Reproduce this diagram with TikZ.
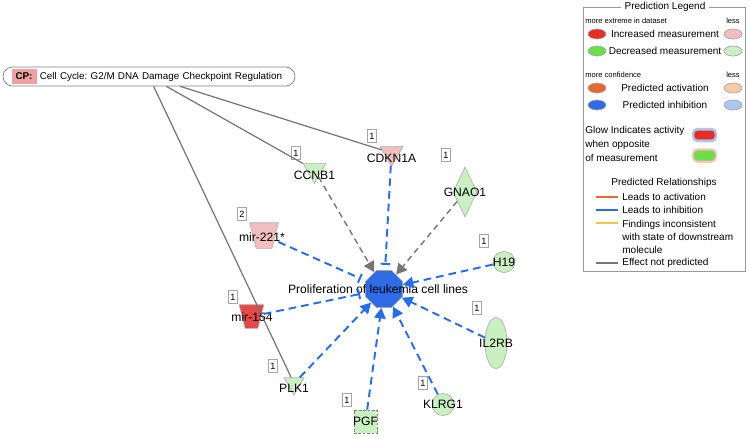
\documentclass[tikz,border=0pt]{standalone}
\usepackage{fontspec}
\setmainfont{Liberation Sans}
\usetikzlibrary{arrows.meta,shapes.geometric,positioning,calc}
\frenchspacing
\definecolor{edgeblue}{RGB}{40,108,238}
\definecolor{hubblue}{RGB}{45,108,230}
\definecolor{edgegray}{RGB}{118,118,118}
\definecolor{downgreen}{RGB}{200,240,192}
\definecolor{uppink}{RGB}{242,190,190}
\definecolor{upred}{RGB}{228,72,72}
\definecolor{cppink}{RGB}{240,160,160}
\definecolor{legred}{RGB}{230,45,40}
\definecolor{leggreen}{RGB}{105,225,70}
\definecolor{legorange}{RGB}{232,105,45}
\definecolor{legorangelt}{RGB}{247,202,168}
\definecolor{legbluelt}{RGB}{172,200,242}
\definecolor{legyellow}{RGB}{240,200,60}
\tikzset{%
	lbl/.style      = {font=\fontsize{6.9}{8}\selectfont, inner sep=0pt},
	legtxt/.style   = {font=\fontsize{5.7}{7}\selectfont, inner sep=0pt},
	legsmall/.style = {font=\fontsize{4.3}{5}\selectfont, inner sep=0pt},
	numbox/.style   = {draw=gray!70, fill=white, line width=0.4pt, minimum width=0.17cm, minimum height=0.25cm, inner sep=0pt, font=\fontsize{5.2}{6}\selectfont},
	downtri/.style  = {draw=gray!60, regular polygon, regular polygon sides=3, shape border rotate=180, inner sep=0pt},
	mirbox/.style   = {rectangle, inner sep=0pt},
	oval/.style     = {draw=gray!60, ellipse, inner sep=0pt, fill=downgreen},
	legoval/.style  = {draw=gray!70, ellipse, inner sep=0pt, minimum width=0.36cm, minimum height=0.2cm},
	inhib/.style    = {edgeblue, line width=1.1pt, dash pattern=on 4.4pt off 2.8pt, -{Bar[width=5.5pt,line width=1.1pt]}, shorten >=3pt},
	activ/.style    = {edgeblue, line width=1.1pt, dash pattern=on 4.4pt off 2.8pt, -{Triangle[length=6pt,width=6.5pt]}},
	noeff/.style    = {edgegray, line width=0.8pt, dash pattern=on 3.4pt off 2.4pt, -{Triangle[length=6pt,width=6.5pt]}},
	cpline/.style   = {edgegray, line width=0.7pt},
}

\begin{document}
\begin{tikzpicture}[x=0.02cm, y=-0.02cm]
	\useasboundingbox (0,0) rectangle (750,437);
	% canonical pathway
	\node[draw=gray, rounded corners=0.19cm, minimum height=0.38cm, text width=5.5cm, inner xsep=0.17cm, inner ysep=1pt, align=left, font=\fontsize{5.6}{7}\selectfont] (cp) at (149,76.5) {{\setlength{\fboxsep}{2.3pt}\colorbox{cppink}{\textbf{CP:}}} Cell Cycle: G2/M DNA Damage Checkpoint Regulation};
	
	% function node
	\node[regular polygon, regular polygon sides=8, minimum size=0.8cm, inner sep=0pt, fill=hubblue, draw=gray!70, label={[lbl,xshift=-3.4pt]center:Proliferation of leukemia cell lines}] (prolif) at (384,289) {};
	
	% molecules
	\node[downtri, fill=uppink, minimum size=0.53cm, label={[lbl,yshift=-2.8pt]center:CDKN1A}] (cdkn) at (391.5,153) {};
	\node[numbox] (n-cdkn) at (372,136) {1};
	\node[downtri, fill=downgreen, minimum size=0.53cm, label={[lbl,yshift=-2.8pt]center:CCNB1}] (ccnb) at (314.5,170) {};
	\node[numbox] (n-ccnb) at (296,153) {1};
	\node[diamond, draw=gray!60, fill=downgreen, minimum width=0.48cm, minimum height=1cm, inner sep=0pt, label={[lbl]center:GNAO1}] (gnao) at (465,192) {};
	\node[numbox] (n-gnao) at (446,155) {1};
	% microRNAs: trapezoids drawn on invisible boxes
	\node[mirbox, minimum width=0.56cm, minimum height=0.5cm] (mir221) at (264,235.5) {};
	\draw[fill=uppink, draw=gray!60] (mir221.north west) -- (mir221.north east) -- ($(mir221.south east)+(-6.5,0)$) -- ($(mir221.south west)+(6.5,0)$) -- cycle;
	\node[lbl] (t-mir221) at (262,237) {mir-221*};
	\node[numbox] (n-mir221) at (242,214) {2};
	\node[mirbox, minimum width=0.48cm, minimum height=0.46cm] (mir154) at (251.5,316.5) {};
	\draw[fill=upred, draw=gray!60] (mir154.north west) -- (mir154.north east) -- ($(mir154.south east)+(-6,0)$) -- ($(mir154.south west)+(6,0)$) -- cycle;
	\node[lbl] (t-mir154) at (252,317) {mir-154};
	\node[numbox] (n-mir154) at (233,297) {1};
	\node[oval, minimum width=0.44cm, minimum height=0.42cm, label={[lbl]center:H19}] (h19) at (504,262) {};
	\node[numbox] (n-h19) at (484,241) {1};
	\node[oval, minimum width=0.44cm, minimum height=1.02cm, label={[lbl]center:IL2RB}] (il2rb) at (496,343) {};
	\node[numbox] (n-il2rb) at (477,308) {1};
	\node[downtri, fill=downgreen, minimum size=0.46cm, label={[lbl,yshift=-2.5pt]center:PLK1}] (plk) at (294,383.5) {};
	\node[numbox] (n-plk) at (273,366) {1};
	\node[draw=gray, dash pattern=on 1.5pt off 1pt, fill=downgreen, minimum size=0.46cm, inner sep=0pt, label={[lbl]center:PGF}] (pgf) at (365.5,421.5) {};
	\node[numbox] (n-pgf) at (347,400) {1};
	\node[oval, minimum size=0.44cm, label={[lbl]center:KLRG1}] (klrg) at (443,404.5) {};
	\node[numbox] (n-klrg) at (423,383) {1};
	
	% relationships
	\draw[cpline] (cp) -- (cdkn);
	\draw[cpline] (cp) -- (ccnb);
	\draw[cpline] (cp) -- (plk);
	\draw[noeff] (ccnb) -- (prolif);
	\draw[noeff] (gnao) -- (prolif);
	\draw[inhib] (cdkn) -- (prolif);
	\draw[inhib] (mir221) -- (prolif);
	\draw[inhib] (mir154) -- (prolif);
	\draw[activ] (h19) -- (prolif);
	\draw[activ] (il2rb) -- (prolif);
	\draw[activ] (plk) -- (prolif);
	\draw[activ] (pgf) -- (prolif);
	\draw[activ] (klrg) -- (prolif);
	
	% legend
	\draw[gray!80, line width=0.5pt] (583,7) rectangle (745,271);
	\node[legtxt, fill=white, inner xsep=2pt] (legtitle) at (665,7) {Prediction Legend};
	\node[legsmall, anchor=west] (t-extreme) at (585,21) {more extreme in dataset};
	\node[legsmall] (t-less1) at (733,21) {less};
	\node[legoval, fill=legred] (o-incr) at (597,34) {};
	\node[legtxt] (t-incr) at (665,34) {Increased measurement};
	\node[legoval, fill=uppink] (o-incrlt) at (733,34) {};
	\node[legoval, fill=leggreen] (o-decr) at (597,51) {};
	\node[legtxt] (t-decr) at (665,51) {Decreased measurement};
	\node[legoval, fill=downgreen] (o-decrlt) at (733,51) {};
	\node[legsmall, anchor=west] (t-conf) at (585,75) {more confidence};
	\node[legsmall] (t-less2) at (733,75) {less};
	\node[legoval, fill=legorange] (o-act) at (597,88) {};
	\node[legtxt] (t-act) at (665,88) {Predicted activation};
	\node[legoval, fill=legorangelt] (o-actlt) at (733,88) {};
	\node[legoval, fill=hubblue] (o-inh) at (597,105) {};
	\node[legtxt] (t-inh) at (665,105) {Predicted inhibition};
	\node[legoval, fill=legbluelt] (o-inhlt) at (733,105) {};
	\node[legtxt, anchor=west, align=left, font=\fontsize{5.7}{7.9}\selectfont] (t-glow) at (585,144) {Glow Indicates activity\\when opposite\\of measurement};
	\node[fill=legbluelt, rounded corners=3pt, minimum width=0.5cm, minimum height=0.29cm, inner sep=0pt] (glow1) at (704.5,135) {};
	\node[fill=legred, draw=gray!60, rounded corners=2pt, minimum width=0.42cm, minimum height=0.19cm, inner sep=0pt] (glow1in) at (704.5,135) {};
	\node[fill=legorangelt, rounded corners=3pt, minimum width=0.5cm, minimum height=0.29cm, inner sep=0pt] (glow2) at (704.5,155.5) {};
	\node[fill=leggreen, draw=gray!60, rounded corners=2pt, minimum width=0.42cm, minimum height=0.19cm, inner sep=0pt] (glow2in) at (704.5,155.5) {};
	\node[legtxt] (t-rel) at (664,183) {Predicted Relationships};
	\draw[legorange, line width=1.2pt] (596,197) -- (618,197);
	\node[legtxt, anchor=west] (t-la) at (622,197) {Leads to activation};
	\draw[edgeblue, line width=1.2pt] (596,210) -- (618,210);
	\node[legtxt, anchor=west] (t-li) at (622,210) {Leads to inhibition};
	\draw[legyellow, line width=1.2pt] (596,223) -- (618,223);
	\node[legtxt, anchor=west, align=left, font=\fontsize{5.7}{7.4}\selectfont] (t-fi) at (622,236.5) {Findings inconsistent\\with state of downstream\\molecule};
	\draw[edgegray, line width=1.2pt] (596,263) -- (618,263);
	\node[legtxt, anchor=west] (t-ne) at (622,263) {Effect not predicted};
\end{tikzpicture}
\end{document}
